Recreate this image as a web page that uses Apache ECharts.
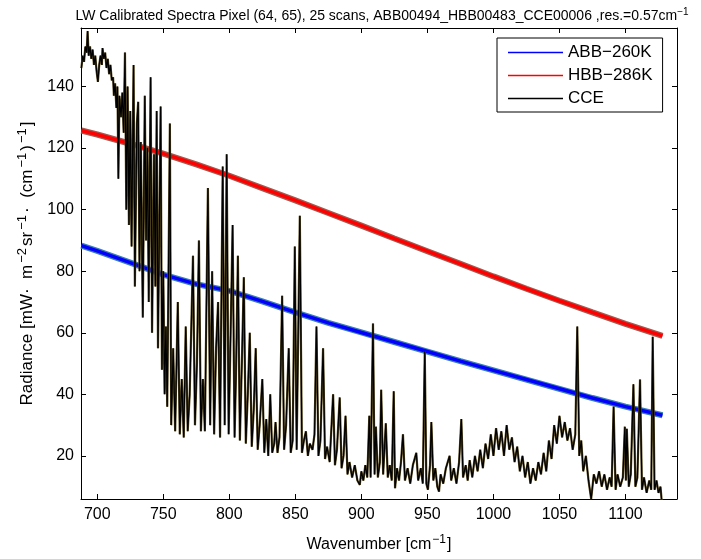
<!DOCTYPE html>
<html>
<head>
<meta charset="utf-8">
<script src="https://cdn.jsdelivr.net/npm/echarts@6/dist/echarts.min.js"></script>
<style>
  html, body { margin: 0; padding: 0; background: #fff; }
  #main { width: 701px; height: 559px; }
</style>
</head>
<body>
<div id="main"></div>
<script>
// tick labels
var xTicks = [700, 750, 800, 850, 900, 950, 1000, 1050, 1100];
var yTicks = [20, 40, 60, 80, 100, 120, 140];

// ABB-260K blackbody
var abbWn  = [688, 700, 725, 750, 775, 800, 825, 850, 875, 900, 925, 950, 975, 1000, 1025, 1050, 1075, 1100, 1128];
var abbVal = [88.3, 86.6, 82.8, 78.9, 75.8, 73.6, 70.2, 66.6, 63.2, 60.1, 57, 53.9, 50.8, 47.8, 44.8, 41.8, 38.8, 36.0, 33.2];

// HBB-286K blackbody (red band)
var hbbWn  = [688, 700, 725, 750, 775, 800, 825, 850, 875, 900, 925, 950, 975, 1000, 1025, 1050, 1075, 1100, 1128];
var hbbVal = [125.7, 124.4, 121.4, 118.2, 114.7, 111, 107, 103, 98.9, 94.8, 90.6, 86.5, 82.4, 78.3, 74.3, 70.4, 66.6, 62.9, 59];

// CCE scene spectrum (peaks and troughs)
var cceWn = [688, 689, 690, 691, 692, 692.7, 693.5, 694.5, 695.5, 696.5, 697.5, 698.5, 699.5, 700.5, 701.5, 702.5, 703.5, 704, 705, 706, 707, 708, 709, 710, 711, 712, 712.6,
  713.5, 714.5, 715.3, 716, 716.8, 718, 719, 720, 721, 722, 723, 724, 725, 726, 727.5, 728.5, 730, 731, 732, 733, 734.5, 736, 737, 738, 739, 740.4, 741.5, 743, 744, 745, 746, 748, 749, 750, 751, 752, 753, 755,
  756, 757.5, 759, 761, 762.5, 764, 765.5, 767, 768.5, 770, 772.5, 774, 775.5, 777, 778.5, 780, 781.5, 783.8, 785.5, 787, 788.5, 790, 791.5, 793, 795, 796.5, 798, 799.5, 801, 802.5, 804, 805, 806.5, 808, 809.5, 811, 812.5, 814, 815.5, 817, 818.5, 820, 821.5, 823, 825, 826.5, 828, 829.5,
  831, 832.5, 834, 835, 836.5, 838, 840, 841.5, 843, 845, 846.5, 848, 849.6, 851, 853.4, 855, 856.5, 858, 859.5, 861, 863, 864.5, 866, 867.5, 869, 871, 872.5, 874, 876, 878.6, 880, 881.5, 883.6, 885, 886.5, 888, 889.5, 891, 893, 895, 897, 898.8,
  900, 901.5, 903, 904.5, 906, 907, 908.8, 910, 911, 912.5, 914, 915, 916.5, 918.5, 920, 921.5, 923, 924.5, 925.5, 927, 928.5, 930, 931.5, 933, 935, 937, 939, 941.6, 943, 945, 946.5, 948, 949.2, 950.4, 952, 953, 954.5, 956, 957.5, 958.8, 960, 962, 964, 966.8, 968, 970, 972, 974, 975.7, 977, 979, 980.5, 982,
  984, 986, 988, 990, 992, 994, 996, 998, 1000, 1002, 1004, 1006, 1008, 1010, 1012, 1014, 1016, 1018, 1020, 1022, 1024, 1026, 1028, 1030, 1032, 1034, 1036, 1038, 1040, 1042, 1044, 1046, 1048, 1050,
  1052, 1054, 1056, 1058, 1060, 1062, 1063.5, 1065, 1066.5, 1068, 1070, 1072, 1074, 1076, 1078, 1080, 1082, 1084, 1086, 1088, 1089.5, 1091, 1092.5, 1094, 1096, 1098, 1099.5, 1100.3, 1101, 1102.5, 1104, 1106, 1107.5, 1109, 1111, 1112.5, 1114, 1116, 1118, 1119.5, 1120.6, 1122, 1123.5, 1125, 1126.5, 1127.5];
var cceVal = [146, 150, 148, 153, 151, 158, 150, 153, 149, 152, 147, 150, 145, 141.5, 147, 150, 147, 152.5, 149, 151, 146, 149, 144, 147, 142, 143, 137,
  141, 133, 140, 110, 137, 130, 138, 125, 151, 100, 140, 95, 132, 88, 147, 75, 128, 135, 80, 122, 65, 137, 90, 120, 70, 143, 60, 118, 75, 132, 55, 133.5, 48, 80, 40, 62, 36, 128,
  30, 55, 28, 70, 27, 45, 26, 62, 28, 40, 85, 30, 50, 90, 28, 45, 28, 107, 30, 80, 27, 55, 70, 26, 114, 30, 118, 27, 60, 95, 26, 45, 85, 25, 50, 78, 24, 40, 60, 23, 35, 55, 22, 30, 45, 21, 32, 20,
  40, 21, 24, 31, 21, 26, 72, 22, 30, 55, 21, 25, 88, 22, 98, 21, 25, 28, 20, 24, 22, 27, 62, 20, 25, 55, 19, 23, 18, 40, 17, 22, 39, 16, 20, 33, 14, 18, 13, 17, 12, 10.6,
  15, 12, 17, 13, 33, 13, 63, 14, 29.5, 13, 18, 41.5, 14, 30.6, 13, 17, 12, 41, 9.5, 16, 12, 18, 27, 12, 16, 11, 17, 21, 12, 16, 11, 54, 11, 9, 17, 31, 12, 16, 10, 8.4, 14, 11, 16, 20, 12, 16, 11, 18, 32, 13, 17, 12, 18.6,
  13, 20, 15, 22, 16, 24, 19, 27, 20, 29, 22, 28, 20, 30, 22, 26, 18, 23, 15, 20, 13, 18, 11, 16, 12, 18, 14, 21, 15, 25, 19, 30, 24, 33,
  26, 31, 25, 29, 22, 27, 62, 20, 25, 15, 20, 12, 6, 14, 11, 15, 10, 14, 9, 13, 10, 36, 9, 14, 10, 13, 29.5, 12, 28.8, 10, 14, 43.3, 10, 13, 44.8, 9, 13, 8, 12, 9, 58.7, 9, 12, 8, 10, 5];

function pairs(xs, ys) {
  var out = [];
  for (var i = 0; i < xs.length; i++) out.push([xs[i], ys[i]]);
  return out;
}

var font = '"Liberation Sans", Arial, sans-serif';
var supStyle = { fontFamily: font, fontSize: 12, color: '#000', verticalAlign: 'top', padding: [0, 1, 9, 1] };
var supBig = { fontFamily: font, fontSize: 13, color: '#000', verticalAlign: 'top', padding: [0, 2, 10, 2] };
var myChart = echarts.init(document.getElementById('main'));

var option = {
  animation: false,
  backgroundColor: '#fff',
  title: {
    text: 'LW Calibrated Spectra Pixel (64, 65), 25 scans, ABB00494_HBB00483_CCE00006 ,res.=0.57cm{sup|−1}',
    left: 377,
    top: 2,
    textAlign: 'center',
    textStyle: {
      fontFamily: font, fontSize: 14, fontWeight: 'normal', color: '#000',
      rich: { sup: { fontFamily: font, fontSize: 10, color: '#000', verticalAlign: 'top', padding: [0, 0, 8, 0] } }
    }
  },
  legend: {
    orient: 'vertical',
    left: 497,
    top: 38,
    padding: [5, 10, 4, 11],
    itemGap: 4,
    itemWidth: 55,
    itemHeight: 1.5,
    icon: 'rect',
    backgroundColor: '#fff',
    borderColor: '#000',
    borderWidth: 1,
    borderRadius: 0,
    textStyle: { fontFamily: font, fontSize: 17, color: '#000', lineHeight: 19 },
    data: ['ABB−260K', 'HBB−286K', 'CCE']
  },
  grid: { left: 81, right: 24, top: 28, bottom: 60, show: false },
  xAxis: [{
    type: 'value',
    min: 687.7,
    max: 1139,
    name: 'Wavenumber [cm{sup|−1}]',
    nameLocation: 'middle',
    nameGap: 35,
    nameTextStyle: {
      fontFamily: font, fontSize: 16, color: '#000',
      rich: { sup: supStyle }
    },
    axisLine: { show: true, lineStyle: { color: '#000', width: 1 } },
    axisTick: { show: true, inside: true, length: 5, customValues: xTicks, lineStyle: { color: '#000' } },
    axisLabel: {
      customValues: xTicks, fontFamily: font, fontSize: 16, color: '#000', margin: 8,
      formatter: function (v) { return String(v); }
    },
    splitLine: { show: false }
  }, {
    type: 'value',
    position: 'top',
    min: 687.7,
    max: 1139,
    axisLine: { show: true, lineStyle: { color: '#000', width: 1 } },
    axisTick: { show: true, inside: true, length: 5, customValues: xTicks, lineStyle: { color: '#000' } },
    axisLabel: { show: false },
    splitLine: { show: false }
  }],
  yAxis: [{
    type: 'value',
    min: 6,
    max: 159,
    name: 'Radiance [mW·  m{sup|−2}sr{sup|−1}·  (cm{sup|−1}){sup|−1}]',
    nameLocation: 'middle',
    nameRotate: 90,
    nameGap: 42,
    nameTextStyle: {
      fontFamily: font, fontSize: 17, color: '#000',
      rich: { sup: supBig }
    },
    axisLine: { show: true, lineStyle: { color: '#000', width: 1 } },
    axisTick: { show: true, inside: true, length: 5, customValues: yTicks, lineStyle: { color: '#000' } },
    axisLabel: {
      customValues: yTicks, fontFamily: font, fontSize: 16, color: '#000', margin: 7,
      formatter: function (v) { return String(v); }
    },
    splitLine: { show: false }
  }, {
    type: 'value',
    position: 'right',
    min: 6,
    max: 159,
    axisLine: { show: true, lineStyle: { color: '#000', width: 1 } },
    axisTick: { show: true, inside: true, length: 5, customValues: yTicks, lineStyle: { color: '#000' } },
    axisLabel: { show: false },
    splitLine: { show: false }
  }],
  series: [{
    // speckle of the 25 scans around the ABB band
    type: 'line',
    data: pairs(abbWn, abbVal),
    symbol: 'none',
    silent: true,
    lineStyle: { color: '#3a7fb0', width: 6 }
  }, {
    name: 'ABB−260K',
    type: 'line',
    data: pairs(abbWn, abbVal),
    symbol: 'none',
    color: '#0000ff',
    lineStyle: { color: '#0000ff', width: 3.5 }
  }, {
    type: 'line',
    data: pairs(hbbWn, hbbVal),
    symbol: 'none',
    silent: true,
    lineStyle: { color: '#a05a50', width: 6 }
  }, {
    name: 'HBB−286K',
    type: 'line',
    data: pairs(hbbWn, hbbVal),
    symbol: 'none',
    color: '#ff0000',
    lineStyle: { color: '#ff0000', width: 3.5 }
  }, {
    type: 'line',
    data: pairs(cceWn, cceVal),
    symbol: 'none',
    silent: true,
    lineStyle: { color: '#5a4c22', width: 2.2 }
  }, {
    name: 'CCE',
    type: 'line',
    data: pairs(cceWn, cceVal),
    symbol: 'none',
    color: '#000',
    lineStyle: { color: '#000', width: 1.2 }
  }]
};

myChart.setOption(option);
</script>
</body>
</html>
